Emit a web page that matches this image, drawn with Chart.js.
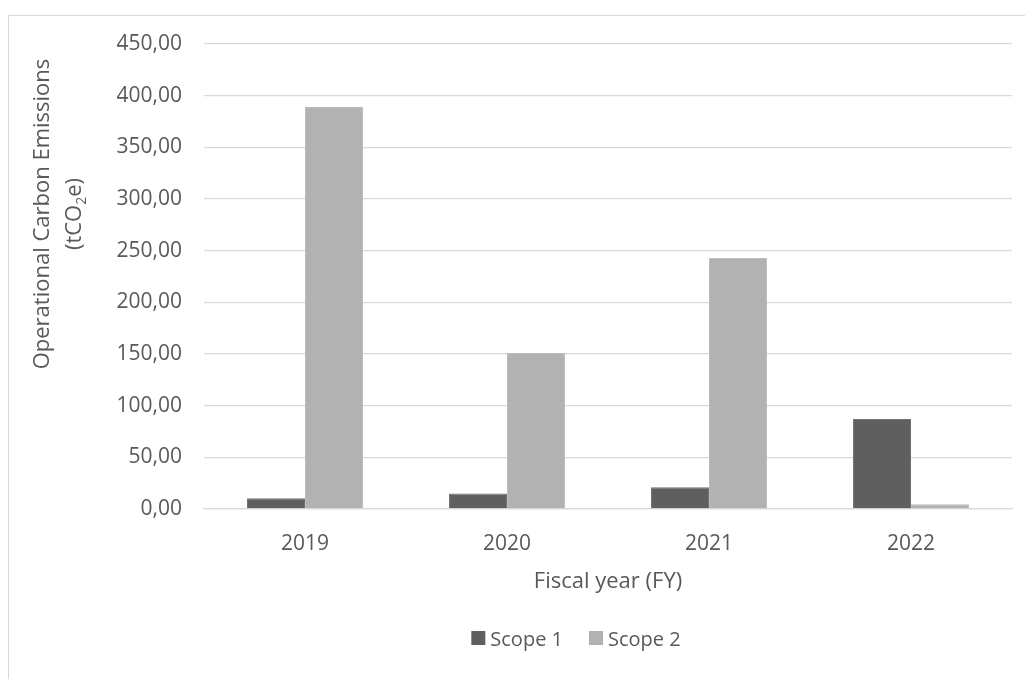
<!DOCTYPE html>
<html>
<head>
<meta charset="utf-8">
<script src="https://cdn.jsdelivr.net/npm/chart.js@4.4.1/dist/chart.umd.min.js"></script>
<style>
  html, body { margin: 0; padding: 0; background: #fff; }
  #wrap { position: relative; width: 1025px; height: 679px; overflow: hidden; }
  #frame { position: absolute; left: 8px; top: 15px; width: 1200px; height: 800px;
           border-left: 1px solid #d9d9d9; border-top: 1px solid #d9d9d9; }
  canvas { position: absolute; left: 0; top: 0; }
</style>
</head>
<body>
<div id="wrap">
  <div id="frame"></div>
  <canvas id="c" width="1025" height="679"></canvas>
</div>
<script>
// operational carbon emissions per fiscal year
const years = ["2019", "2020", "2021", "2022"];
const scope1 = [10.5, 15, 21, 87];
const scope2 = [389, 151, 243, 4.5];
const seriesNames = ["Scope 1", "Scope 2"];
const yTitle = ["Operational Carbon Emissions", "(tCO", "2", "e)"];
const xTitle = "Fiscal year (FY)";

const TEXT = "#595959";
const GRID = "#d9d9d9";
const DARK = "#5f5f5f";
const LIGHT = "#b2b2b2";
const FONT = "'Open Sans', sans-serif";

Chart.defaults.font.family = FONT;
Chart.defaults.color = TEXT;

// y title (two lines with a subscript) and the bottom legend, drawn by hand
const extras = {
  id: "extras",
  afterDraw(chart) {
    const ctx = chart.ctx;
    const cy = 214;
    ctx.save();
    ctx.fillStyle = TEXT;
    ctx.textBaseline = "alphabetic";
    // line 1
    ctx.save();
    ctx.translate(49, cy);
    ctx.rotate(-Math.PI / 2);
    ctx.font = "22px " + FONT;
    ctx.textAlign = "center";
    ctx.fillText(yTitle[0], 0, 0);
    ctx.restore();
    // line 2: (tCO₂e)
    ctx.save();
    ctx.translate(81, cy);
    ctx.rotate(-Math.PI / 2);
    ctx.textAlign = "left";
    const big = "22px " + FONT, small = "14px " + FONT;
    ctx.font = big; const w1 = ctx.measureText(yTitle[1]).width;
    ctx.font = small; const w2 = ctx.measureText(yTitle[2]).width;
    ctx.font = big; const w3 = ctx.measureText(yTitle[3]).width;
    let x = -(w1 + w2 + w3) / 2;
    ctx.font = big; ctx.fillText(yTitle[1], x, 0); x += w1;
    ctx.font = small; ctx.fillText(yTitle[2], x, 5); x += w2;
    ctx.font = big; ctx.fillText(yTitle[3], x, 0);
    ctx.restore();

    // legend
    ctx.font = "20px " + FONT;
    const box = 14, gap = 5, itemGap = 26;
    const items = chart.data.datasets.map((d) => ({ label: d.label, color: d.backgroundColor, w: box + gap + ctx.measureText(d.label).width }));
    const total = items.reduce((s, it) => s + it.w, 0) + itemGap * (items.length - 1);
    let lx = 576 - total / 2;
    const by = 631, base = 645.5;
    for (const it of items) {
      ctx.fillStyle = it.color;
      ctx.fillRect(lx, by, box, box);
      ctx.fillStyle = TEXT;
      ctx.fillText(it.label, lx + box + gap, base);
      lx += it.w + itemGap;
    }
    ctx.restore();
  },
};

new Chart(document.getElementById("c"), {
  type: "bar",
  data: {
    labels: years,
    datasets: [
      { label: seriesNames[0], data: scope1, backgroundColor: DARK, borderColor: "#707070", borderWidth: 1 },
      { label: seriesNames[1], data: scope2, backgroundColor: LIGHT, borderColor: "#bcbcbc", borderWidth: 1 },
    ],
  },
  options: {
    responsive: false,
    animation: false,
    layout: { padding: { left: 0, right: 13, top: 44, bottom: 0 } },
    datasets: { bar: { categoryPercentage: 0.574, barPercentage: 1 } },
    scales: {
      x: {
        grid: { display: false, drawTicks: false },
        border: { display: true, color: GRID, width: 1.3 },
        ticks: { padding: 22, font: { size: 21 }, color: TEXT },
        title: { display: true, text: xTitle, font: { size: 22 }, color: TEXT, padding: { top: 0, bottom: 84 } },
        afterFit: (s) => { s.height = 170; },
      },
      y: {
        min: 0, max: 450,
        ticks: { stepSize: 50, padding: 22, font: { size: 21 }, color: TEXT,
          callback: (v) => v.toFixed(2).replace(".", ",") },
        grid: { color: GRID, lineWidth: 1.3, drawTicks: false },
        border: { display: false },
        afterFit: (s) => { s.width = 204; },
      },
    },
    plugins: { legend: { display: false }, tooltip: { enabled: false } },
  },
  plugins: [extras],
});
</script>
</body>
</html>
